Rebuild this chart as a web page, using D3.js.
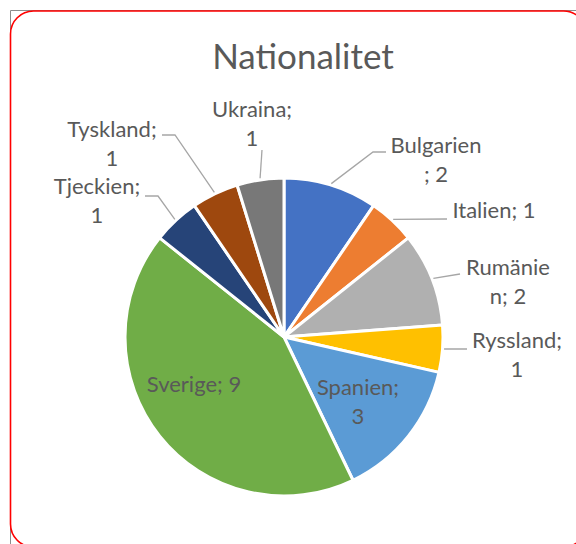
<!DOCTYPE html>
<html><head><meta charset="utf-8">
<script src="https://cdn.jsdelivr.net/npm/d3@7"></script>
<style>html,body{margin:0;padding:0;background:#fff;}svg{display:block;}</style>
</head><body>
<svg id="chart" width="576" height="544"></svg>
<script>
// ---- data ----
const title = "Nationalitet";
const categories = ["Bulgarien","Italien","Rumänien","Ryssland","Spanien","Sverige","Tjeckien","Tyskland","Ukraina"];
const values = [2,1,2,1,3,9,1,1,1];
const colors = ["#4472C4","#ED7D31","#B0B0B0","#FFC000","#5B9BD5","#70AD47","#264478","#9E480E","#787878"];
// label text lines as wrapped in the reference
const labelLines = [["Bulgarien","; 2"],["Italien; 1"],["Rumänie","n; 2"],["Ryssland;","1"],["Spanien;","3"],["Sverige; 9"],["Tjeckien;","1"],["Tyskland;","1"],["Ukraina;","1"]];

// ---- layout ----
const W = 576, H = 544;
const cx = 284, cy = 337, R = 159;
const lineH = 28.5;
// label anchor (center x, first baseline y) and leader elbow points
const labelPos = {
  "Bulgarien": {x:436, y:153, leader:[[373,152],[386,152]]},
  "Italien":   {x:494, y:218, leader:[[447,219]]},
  "Rumänien":  {x:508, y:275, leader:[[460,274]]},
  "Ryssland":  {x:517, y:348, leader:[[467,349]]},
  "Spanien":   {x:358, y:395, leader:null},
  "Sverige":   {x:194, y:392, leader:null},
  "Tjeckien":  {x:97,  y:194, leader:[[158,196],[145,196]]},
  "Tyskland":  {x:112, y:137, leader:[[175,135],[162,135]]},
  "Ukraina":   {x:252, y:117, leader:[[262,150]]}
};
const textColor = "#595959";
const fontFam = "Lato, 'Open Sans', sans-serif";

const svg = d3.select("#chart");
svg.append("rect").attr("width",W).attr("height",H).attr("fill","#fff");

// outer frame
svg.append("line").attr("x1",10.5).attr("y1",10.5).attr("x2",10.5).attr("y2",H).attr("stroke","#8c8c8c").attr("stroke-width",1);
svg.append("line").attr("x1",10.5).attr("y1",10.5).attr("x2",W).attr("y2",10.5).attr("stroke","#8c8c8c").attr("stroke-width",1);
svg.append("rect").attr("x",10.5).attr("y",11).attr("width",576).attr("height",536).attr("rx",23).attr("ry",23)
  .attr("fill","none").attr("stroke","#FF0000").attr("stroke-width",1.6);

// title
svg.append("text").attr("x",303).attr("y",69).attr("text-anchor","middle")
  .attr("font-family",fontFam).attr("font-size",35).attr("fill",textColor).text(title);

const data = categories.map((c,i)=>({name:c, value:values[i], color:colors[i], lines:labelLines[i]}));
const pie = d3.pie().value(d=>d.value).sort(null);
const arcs = pie(data);
const arc = d3.arc().innerRadius(0).outerRadius(R);

const g = svg.append("g").attr("transform",`translate(${cx},${cy})`);
g.selectAll("path.slice").data(arcs).join("path").attr("class","slice")
  .attr("d",arc).attr("fill",d=>d.data.color).attr("stroke","#fff").attr("stroke-width",3).attr("stroke-linejoin","round");

// leader lines
arcs.forEach(a=>{
  const lp = labelPos[a.data.name];
  if(!lp.leader) return;
  const mid = (a.startAngle+a.endAngle)/2;
  const r0 = R+1.5;
  const start = [cx + r0*Math.sin(mid), cy - r0*Math.cos(mid)];
  const pts = [start].concat(lp.leader);
  svg.append("path").attr("d",d3.line()(pts)).attr("fill","none")
    .attr("stroke","#A6A6A6").attr("stroke-width",1.3);
});

// labels
arcs.forEach(a=>{
  const lp = labelPos[a.data.name];
  const t = svg.append("text").attr("text-anchor","middle").attr("font-family",fontFam)
    .attr("font-size",22).attr("fill",textColor);
  a.data.lines.forEach((ln,i)=>{
    t.append("tspan").attr("x",lp.x).attr("y",lp.y + i*lineH).text(ln);
  });
});
</script>
</body></html>
